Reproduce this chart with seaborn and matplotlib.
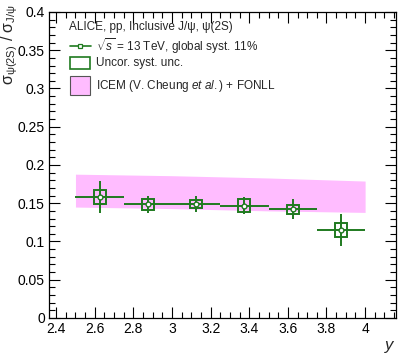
import numpy as np
import pandas as pd
import matplotlib
matplotlib.use("Agg")
import matplotlib.pyplot as plt
from matplotlib.patches import Rectangle
from matplotlib.lines import Line2D
from matplotlib.ticker import MultipleLocator
import seaborn as sns

# ---- data ----
y_center = [2.625, 2.875, 3.125, 3.375, 3.625, 3.875]
y_halfwidth = [0.125, 0.125, 0.125, 0.125, 0.125, 0.125]
ratio = [0.158, 0.1485, 0.149, 0.147, 0.142, 0.115]
stat_err = [0.021, 0.011, 0.011, 0.011, 0.013, 0.021]
syst_err = [0.0087, 0.0072, 0.0052, 0.008, 0.0063, 0.0087]

model_y = [2.5, 3.0, 3.5, 4.0]
model_hi = [0.188, 0.186, 0.183, 0.179]
model_lo = [0.145, 0.143, 0.140, 0.138]

x_ticks = [2.4, 2.6, 2.8, 3.0, 3.2, 3.4, 3.6, 3.8, 4.0]
x_ticklabels = ["2.4", "2.6", "2.8", "3", "3.2", "3.4", "3.6", "3.8", "4"]
y_ticks = [0, 0.05, 0.1, 0.15, 0.2, 0.25, 0.3, 0.35, 0.4]
y_ticklabels = ["0", "0.05", "0.1", "0.15", "0.2", "0.25", "0.3", "0.35", "0.4"]

df = pd.DataFrame({"y": y_center, "ratio": ratio})

sns.set_theme(style="ticks")
plt.rcParams["font.family"] = ["Liberation Sans", "DejaVu Sans"]
plt.rcParams["mathtext.fontset"] = "custom"
plt.rcParams["mathtext.rm"] = "Liberation Sans"
plt.rcParams["mathtext.it"] = "Liberation Sans:italic"

green = "#1f7a1f"
pink = "#ffbcff"

fig = plt.figure(figsize=(4.07, 3.63), dpi=100)
ax = fig.add_axes([0.1204, 0.124, 0.8526, 0.843])

# model band
ax.fill_between(model_y, model_lo, model_hi, color=pink, lw=0, zorder=1)

# stat errors
ax.errorbar(y_center, ratio, xerr=y_halfwidth, yerr=stat_err, fmt="none",
            ecolor=green, elinewidth=1.4, capsize=0, zorder=3)
# syst boxes
ax.bar(y_center, [2 * s for s in syst_err],
       bottom=[r - s for r, s in zip(ratio, syst_err)], width=0.062,
       fill=False, edgecolor=green, linewidth=1.4, zorder=4)
# points
sns.scatterplot(data=df, x="y", y="ratio", ax=ax, marker="o", s=12,
                facecolor="white", edgecolor=green, linewidth=1.0, zorder=5)

ax.set_xlim(2.363, 4.16)
ax.set_ylim(0, 0.4)
ax.xaxis.set_minor_locator(MultipleLocator(0.05))
ax.yaxis.set_minor_locator(MultipleLocator(0.01))
ax.set_xticks(x_ticks)
ax.set_xticklabels(x_ticklabels)
ax.set_yticks(y_ticks)
ax.set_yticklabels(y_ticklabels)
ax.tick_params(which="both", direction="in", top=True, right=True,
               labelsize=10, colors="black", width=0.8)
ax.tick_params(which="major", length=8, pad=3)
ax.tick_params(which="minor", length=4)
for sp in ax.spines.values():
    sp.set_linewidth(0.9)
    sp.set_color("black")

ax.set_xlabel("$y$", fontsize=12, loc="right", labelpad=2)
ax.set_ylabel(r"$\mathrm{σ_{ψ(2S)}}$ / $\mathrm{σ_{J/ψ}}$", fontsize=11.5,
              loc="top")
ax.yaxis.set_label_coords(-0.084, 1.025)

# legend (manual, ROOT style)
tr = ax.transAxes
fs = 8.5
ax.text(0.058, 0.951, "ALICE, pp, Inclusive J/ψ, ψ(2S)", transform=tr,
        fontsize=fs, va="center", ha="left")
ax.add_line(Line2D([0.061, 0.12], [0.889, 0.889], transform=tr, color=green, lw=1.2))
ax.add_line(Line2D([0.0905], [0.889], transform=tr, marker="s", ms=3.5,
                   mfc="white", mec=green, mew=0.9, color=green))
ax.text(0.135, 0.889, r"$\sqrt{s}$ = 13 TeV, global syst. 11%", transform=tr,
        fontsize=fs, va="center", ha="left")
ax.add_patch(Rectangle((0.0605, 0.814), 0.058, 0.039, transform=tr,
                       facecolor="white", edgecolor=green, lw=1.2))
ax.text(0.135, 0.832, "Uncor. syst. unc.", transform=tr,
        fontsize=fs, va="center", ha="left")
ax.add_patch(Rectangle((0.0605, 0.729), 0.058, 0.062, transform=tr,
                       facecolor=pink, edgecolor="#555555", lw=0.8))
ax.text(0.135, 0.757, r"ICEM (V. Cheung $et\ al.$) + FONLL", transform=tr,
        fontsize=fs, va="center", ha="left")

fig.savefig("out.png", dpi=100)
